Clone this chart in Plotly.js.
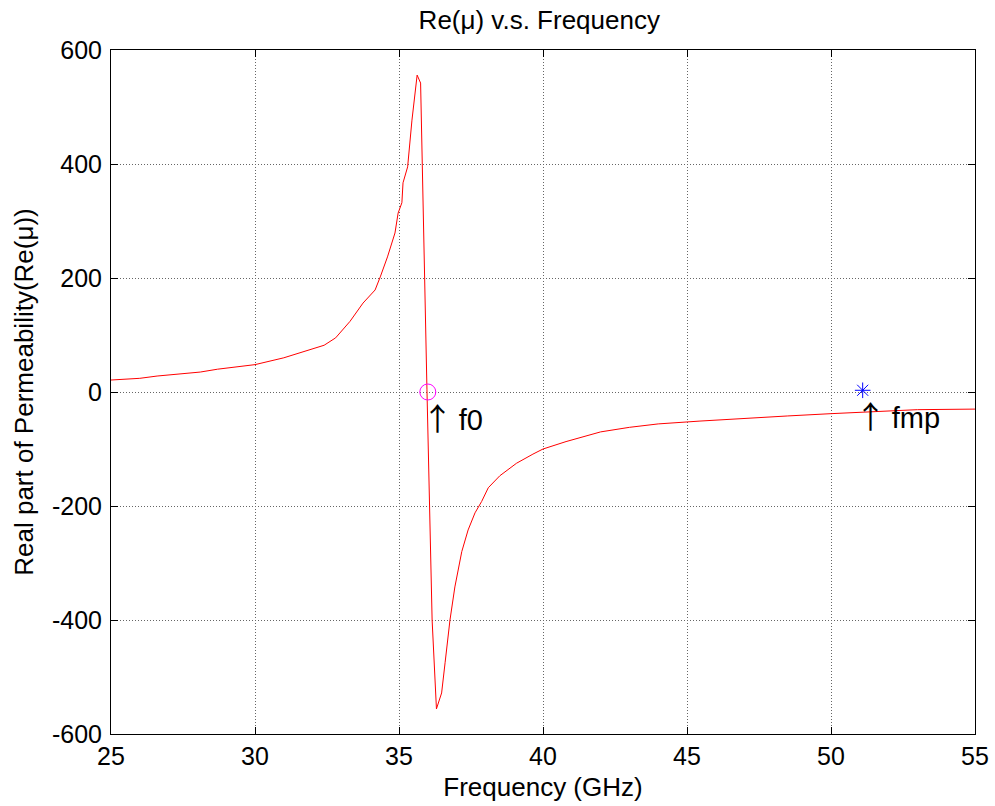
<!DOCTYPE html>
<html>
<head>
<meta charset="utf-8">
<script src="https://cdn.plot.ly/plotly-3.0.1.min.js"></script>
<style>body{margin:0;padding:0;background:#fff;}#chart{width:995px;height:806px;}</style>
</head>
<body>
<div id="chart"></div>
<script>
var freq = [25, 26, 26.6, 27.5, 28.1, 28.7, 29.6, 30, 31, 31.9, 32.4, 32.8, 33.3, 33.75, 34.17, 34.35, 34.6, 34.86, 34.97, 35.1, 35.14, 35.3, 35.45, 35.63, 35.75, 35.97, 36.15, 36.3, 36.48, 36.6, 36.77, 36.94, 37.18, 37.4, 37.64, 37.87, 38.1, 38.5, 39.08, 39.65, 40, 40.8, 42, 43, 44, 45.45, 47, 48.5, 50, 51.5, 53, 55];
var reMu = [21, 24, 28, 32, 35, 40, 46, 48, 60, 74, 82, 95, 124, 156, 179, 202, 237, 279, 314, 332, 367, 395, 477, 556, 542, 5, -400, -556, -528, -475, -400, -342, -280, -242, -212, -192, -168, -147, -125, -109, -100, -87, -70, -62, -56, -51, -46, -42, -38, -34, -31, -30];
var f0 = [36.0], f0Val = [0];
var fmp = [51.1], fmpVal = [3];
var xTicks = [25, 30, 35, 40, 45, 50, 55];
var yTicks = [-600, -400, -200, 0, 200, 400, 600];

var font = 'Liberation Sans, Arial, sans-serif';
var arrowSpan = '<span style="font-family:Noto Sans CJK SC;font-size:31px">\u2191</span>';
var traces = [
  {x: freq, y: reMu, type: 'scatter', mode: 'lines', line: {color: '#ff0000', width: 1}, hoverinfo: 'x+y'},
  {x: f0, y: f0Val, type: 'scatter', mode: 'markers', marker: {symbol: 'circle-open', size: 16, color: '#ff00ff', line: {width: 1, color: '#ff00ff'}}},
  {x: fmp, y: fmpVal, type: 'scatter', mode: 'markers', marker: {symbol: 'asterisk-open', size: 13, color: '#0000ff', line: {width: 1, color: '#0000ff'}}}
];
var axBase = {
  showline: true, linecolor: '#000', linewidth: 1, mirror: 'ticks',
  ticks: 'inside', ticklen: 7, tickcolor: '#000',
  showgrid: true, gridcolor: '#666', griddash: '1px,2px', gridwidth: 1,
  zeroline: false, tickfont: {family: font, size: 25, color: '#000'}
};
var layout = {
  width: 995, height: 806,
  margin: {l: 111, r: 20, t: 50, b: 72},
  paper_bgcolor: '#fff', plot_bgcolor: '#fff',
  showlegend: false,
  title: {text: 'Re(\u03bc) v.s. Frequency', font: {family: font, size: 26, color: '#000'}, x: 0.542, xanchor: 'center', y: 0.975, yanchor: 'middle'},
  xaxis: Object.assign({}, axBase, {range: [25, 55], tickvals: xTicks, ticktext: xTicks.map(String),
    title: {text: 'Frequency (GHz)', font: {family: font, size: 26, color: '#000'}, standoff: 8}}),
  yaxis: Object.assign({}, axBase, {range: [-600, 600], tickvals: yTicks, ticktext: yTicks.map(String), ticklabelstandoff: 3,
    title: {text: 'Real part of Permeability(Re(\u03bc))', font: {family: font, size: 26, color: '#000'}, standoff: 10}}),
  annotations: [
    {x: f0[0], y: f0Val[0], xref: 'x', yref: 'y', text: arrowSpan + '\u2009f0', showarrow: false, xanchor: 'left', yanchor: 'top', xshift: -8, yshift: 0, font: {family: font, size: 29, color: '#000'}},
    {x: fmp[0], y: fmpVal[0], xref: 'x', yref: 'y', text: arrowSpan + '\u2009fmp', showarrow: false, xanchor: 'left', yanchor: 'top', xshift: -10, yshift: 0, font: {family: font, size: 29, color: '#000'}}
  ]
};
Plotly.newPlot('chart', traces, layout, {displayModeBar: false, staticPlot: true});
</script>
</body>
</html>
